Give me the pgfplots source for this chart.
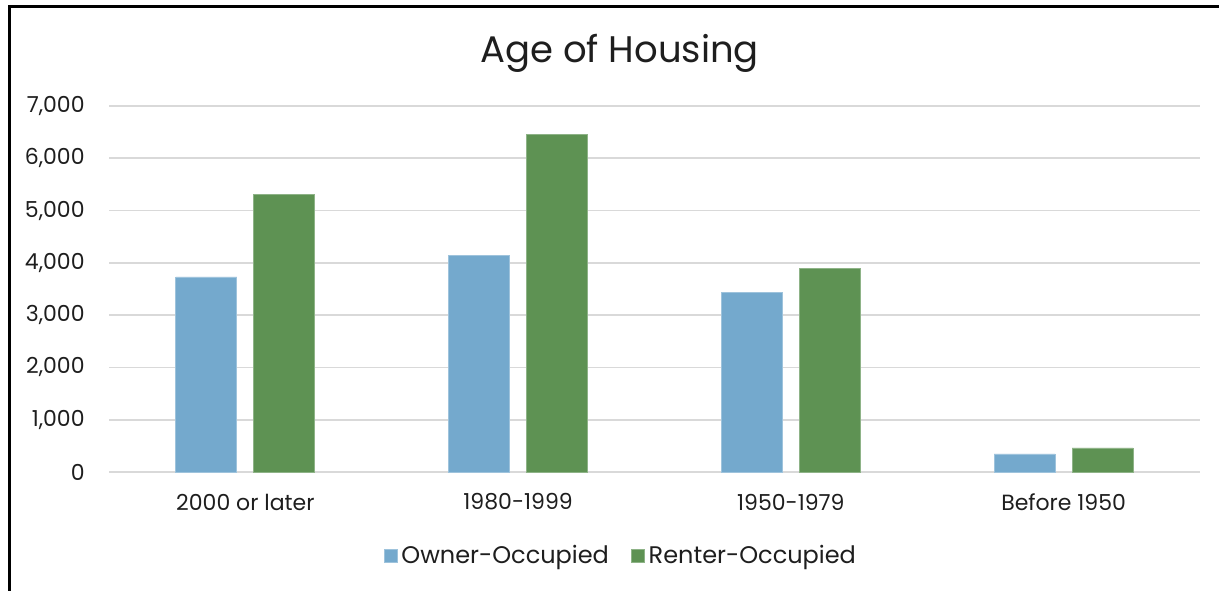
\documentclass[border=0pt]{standalone}
\usepackage{fontspec}
\setmainfont{Poppins}
\usepackage{pgfplots}
\pgfplotsset{compat=1.18}
\definecolor{ownc}{RGB}{116,169,205}
\definecolor{rentc}{RGB}{94,146,83}
\definecolor{gridc}{RGB}{217,217,217}
\definecolor{txt}{RGB}{30,30,30}
\begin{document}
\begin{tikzpicture}[x=0.5pt,y=0.5pt]
\path[use as bounding box] (0,0) rectangle (1219,590);
\draw[line width=1.5pt] (9.5,-10) -- (9.5,583.5) -- (1240,583.5);
\begin{axis}[
  at={(54.5pt,59pt)}, anchor=south west,
  scale only axis, width=545.5pt, height=183pt,
  xmin=-0.5, xmax=3.5, ymin=0, ymax=7000,
  ybar=8.5pt, bar width=30.5pt,
  axis line style={draw=none},
  xtick=data, xticklabels={2000 or later,1980-1999,1950-1979,Before 1950},
  ytick={0,1000,...,7000},
  major tick length=0pt,
  ymajorgrids, grid style={gridc, line width=0.85pt},
  /pgf/number format/.cd, 1000 sep={,}, assume math mode=true,
  /pgfplots/.cd,
  tick label style={font=\fontsize{11}{13}\selectfont, text=txt},
  xticklabel style={anchor=center, yshift=-15pt},
  yticklabel style={anchor=east, inner sep=0pt, xshift=-12pt},
  title={Age of Housing},
  title style={font=\fontsize{18.5}{22}\selectfont, text=txt, at={(rel axis cs:0.468,1.11)}, anchor=center},
  legend style={draw=none, at={(rel axis cs:0.470,-0.2295)}, anchor=center, legend columns=2, font=\fontsize{12}{14}\selectfont, text=txt, /tikz/every even column/.append style={column sep=9pt}},
  legend image code/.code={\fill[#1] (0pt,-3.25pt) rectangle (6.5pt,3.25pt);},
]
\addplot[fill=ownc, draw=ownc!70!white, line width=0.4pt] coordinates {(0,3730) (1,4150) (2,3440) (3,345)};
\addplot[fill=rentc, draw=rentc!70!white, line width=0.4pt] coordinates {(0,5315) (1,6460) (2,3900) (3,460)};
\legend{Owner-Occupied, Renter-Occupied}
\end{axis}
\end{tikzpicture}
\end{document}
